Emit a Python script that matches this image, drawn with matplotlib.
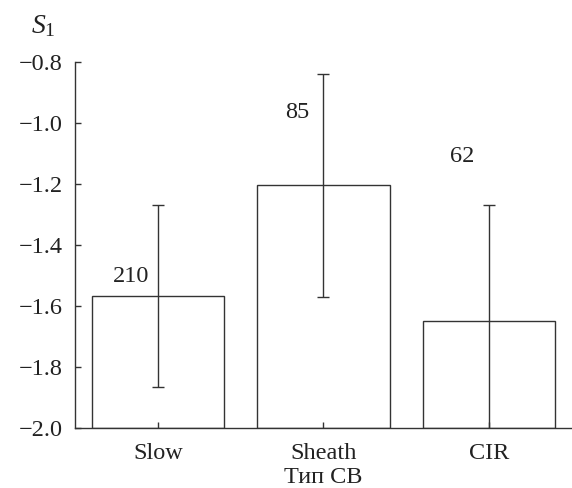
import matplotlib
matplotlib.use("Agg")
import matplotlib.pyplot as plt

categories = ["Slow", "Sheath", "CIR"]
values = [-1.567, -1.205, -1.65]
errors = [0.298, 0.366, 0.38]
counts = ["210", "85", "62"]
count_x = [-0.16, 0.84, 1.84]
count_y = [-1.505, -0.968, -1.112]
yticks = [-2.0, -1.8, -1.6, -1.4, -1.2, -1.0, -0.8]

plt.rcParams['font.family'] = ['Liberation Serif', 'DejaVu Serif']
plt.rcParams['mathtext.fontset'] = 'custom'
plt.rcParams['mathtext.rm'] = 'Liberation Serif'
plt.rcParams['mathtext.it'] = 'Liberation Serif:italic'

FS = 17.5
fig = plt.figure(figsize=(5.72, 4.88), dpi=100)
ax = fig.add_axes([0.1311, 0.1236, 0.8689, 0.75])
base = -2.0
col = '#333333'
x = list(range(len(categories)))
ax.bar(x, [v - base for v in values], bottom=base, width=0.8,
       facecolor='white', edgecolor=col, linewidth=1.0)
ax.errorbar(x, values, yerr=errors, fmt='none', ecolor=col,
            elinewidth=1.0, capsize=4, capthick=1.0)
for cx, cy, t in zip(count_x, count_y, counts):
    ax.text(cx, cy, t, ha='center', va='center', fontsize=FS, color='#222222')

ax.set_xlim(-0.5, 2.5)
ax.set_ylim(-2.0, -0.8)
ax.set_yticks(yticks)
ax.set_yticklabels([f"{t:.1f}".replace('-', '\u2212') for t in yticks])
ax.set_xticks(x)
ax.set_xticklabels(categories)
for s in ['top', 'right']:
    ax.spines[s].set_visible(False)
for s in ['left', 'bottom']:
    ax.spines[s].set_color(col)
    ax.spines[s].set_linewidth(1.0)
ax.tick_params(direction='in', length=4, width=1.0, color=col,
               labelsize=FS, labelcolor='#222222')
ax.tick_params(axis='x', pad=11)
ax.tick_params(axis='y', pad=9)
ax.set_xlabel("Тип СВ", fontsize=FS, color='#222222', labelpad=2)
fig.text(43 / 572, 1 - 26 / 488, "$S_1$", fontsize=20, ha='center', va='center', color='#222222')

fig.savefig("out.png", dpi=100)
